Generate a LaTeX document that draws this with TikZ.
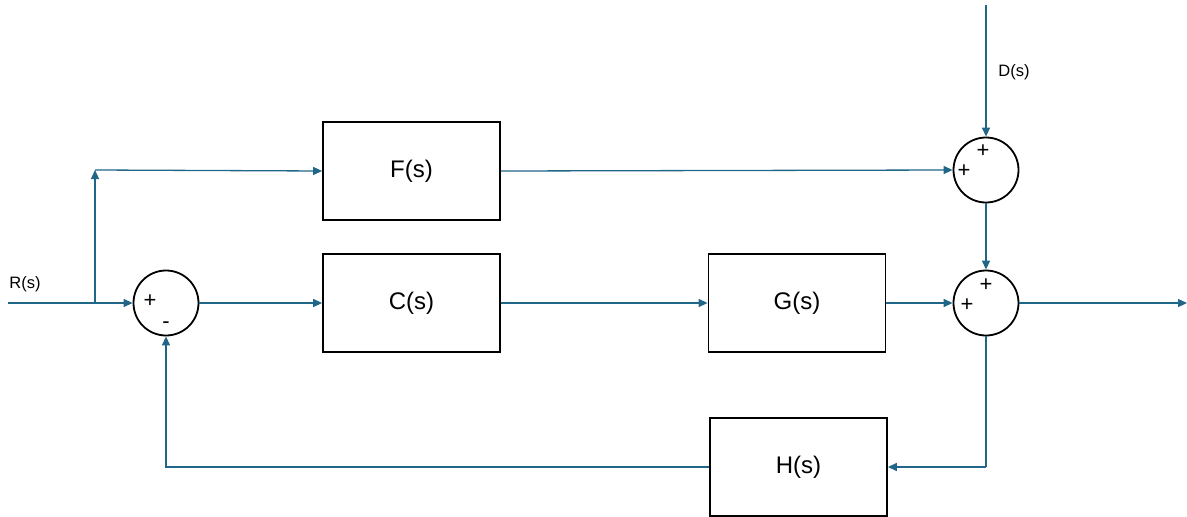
\documentclass[tikz,border=0pt]{standalone}
\usepackage{fontspec}
\setmainfont{Liberation Sans}
\usetikzlibrary{arrows.meta}
\definecolor{wire}{HTML}{1F6688}
\begin{document}
\begin{tikzpicture}[x=1pt,y=-1pt,
  blk/.style={draw=black,line width=1.8pt,minimum width=177pt,minimum height=98pt,inner sep=0pt,font=\fontsize{24}{27}\selectfont},
  sumj/.style={draw=black,line width=1.8pt,circle,minimum size=65pt,inner sep=0pt},
  sig/.style={draw=wire,line width=1.3pt,-{Triangle[length=9pt,width=8pt]}},
  wr/.style={draw=wire,line width=1.3pt},
  lbl/.style={font=\fontsize{16.5}{18}\selectfont},
  sgn/.style={font=\fontsize{22}{23}\selectfont,inner sep=0pt}]
\useasboundingbox (0,0) rectangle (1187,517);
\node[blk] (F) at (411.5,171) {F(s)};
\node[blk] (C) at (411.5,303) {C(s)};
\node[blk] (G) at (797,303) {G(s)};
\node[blk] (H) at (798.5,467) {H(s)};
\node[sumj] (S1) at (166,303) {};
\node[sumj] (S2) at (986,170) {};
\node[sumj] (S3) at (986,303) {};
\node[sgn] at (150,301) {+};
\node[sgn] at (166,325) {-};
\node[sgn] at (983,151) {+};
\node[sgn] at (964,171) {+};
\node[sgn] at (986,285) {+};
\node[sgn] at (967,305) {+};
\coordinate (Rin) at (8,303);
\coordinate (Bp) at (95,303);
\coordinate (Bt) at (95,170);
\coordinate (Din) at (986,5);
\coordinate (Yout) at (1187,303);
\coordinate (Fb) at (986,467);
\coordinate (Hl) at (166,467);
\node[lbl] at (25,284) {R(s)};
\node[lbl] at (1014,72) {D(s)};
\draw[sig] (Rin) -- (S1.west);
\draw[sig] (Bp) -- (Bt);
\draw[sig] (Bt) -- (F.west);
\draw[sig] (S1.east) -- (C.west);
\draw[sig] (C.east) -- (G.west);
\draw[sig] (F.east) -- (S2.west);
\draw[sig] (Din) -- (S2.north);
\draw[sig] (S2.south) -- (S3.north);
\draw[sig] (G.east) -- (S3.west);
\draw[sig] (S3.east) -- (Yout);
\draw[wr] (S3.south) -- (Fb);
\draw[sig] (Fb) -- (H.east);
\draw[sig] (H.west) -- (Hl) -- (S1.south);
\end{tikzpicture}
\end{document}
